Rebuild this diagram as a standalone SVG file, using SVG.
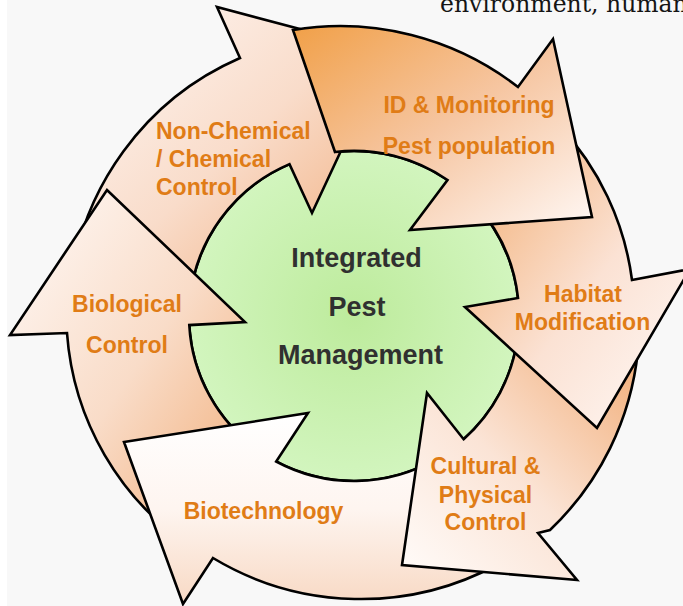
<svg xmlns="http://www.w3.org/2000/svg" width="683" height="606" viewBox="0 0 683 606">
<style>
.arrow{stroke:#000;stroke-width:2.6;stroke-linejoin:miter}
.lbl{font-family:"Liberation Sans",Arial,sans-serif;font-weight:bold;font-size:23px;fill:#E07C16}
.ctr{font-family:"Liberation Sans",Arial,sans-serif;font-weight:bold;font-size:27px;fill:#303030;text-anchor:middle}
.mid{text-anchor:middle}
</style>
<defs>
<linearGradient id="gID" x1="0" y1="0" x2="1" y2="1">
<stop offset="0" stop-color="#F1A048"/><stop offset="0.5" stop-color="#F6C6A2"/><stop offset="1" stop-color="#FFF8F5"/>
</linearGradient>
<linearGradient id="gHab" x1="0" y1="0" x2="1" y2="1">
<stop offset="0" stop-color="#F1A868"/><stop offset="0.55" stop-color="#FBE2D4"/><stop offset="1" stop-color="#FFFAF8"/>
</linearGradient>
<linearGradient id="gCul" x1="0" y1="1" x2="1" y2="0">
<stop offset="0" stop-color="#FFFCFA"/><stop offset="0.45" stop-color="#FBE4D6"/><stop offset="1" stop-color="#F1AA72"/>
</linearGradient>
<linearGradient id="gBiot" x1="0" y1="0" x2="0" y2="1">
<stop offset="0" stop-color="#FFFFFF"/><stop offset="0.5" stop-color="#FEF5F0"/><stop offset="1" stop-color="#F8D9C4"/>
</linearGradient>
<linearGradient id="gBio" x1="0" y1="0" x2="1" y2="1">
<stop offset="0" stop-color="#FFFAF8"/><stop offset="0.5" stop-color="#F9DCC8"/><stop offset="1" stop-color="#F0A66C"/>
</linearGradient>
<linearGradient id="gNon" x1="0" y1="0" x2="1" y2="1">
<stop offset="0" stop-color="#FFFAF8"/><stop offset="0.5" stop-color="#F9DCCA"/><stop offset="1" stop-color="#F0A670"/>
</linearGradient>
<radialGradient id="gGreen" cx="0.5" cy="0.5" r="0.5">
<stop offset="0" stop-color="#BDEB9C"/><stop offset="1" stop-color="#D2F5BE"/>
</radialGradient>
</defs>
<rect x="0" y="0" width="683" height="606" fill="#FFFFFF"/>
<rect x="7" y="0" width="676" height="606" fill="#F8F8F8"/>
<text x="440" y="12" font-family="'DejaVu Serif','Liberation Serif',serif" font-size="23.5" fill="#151515">environment, human</text>

<g id="center-circle">
<circle cx="354" cy="316" r="165" fill="url(#gGreen)" stroke="#000" stroke-width="2.6"/>
</g>

<g id="node-nonchemical">
<path class="arrow" fill="url(#gNon)" d="M70,291.2 A285,285 0 0 1 240,58 L217,7 L387,52 L312,213 L289.5,164.1 A165,165 0 0 0 189.6,301.6 Z"/>
<text class="lbl" x="156" y="138.5">Non-Chemical</text>
<text class="lbl" x="156" y="166.5">/ Chemical</text>
<text class="lbl" x="156" y="194.5">Control</text>
</g>

<g id="node-biological">
<path class="arrow" fill="url(#gBio)" d="M191.7,547.8 A283,283 0 0 1 67,333 L10,335 L107,190 L245,322 L189.3,325.1 A165,165 0 0 0 259.4,451.2 Z"/>
<text class="lbl mid" x="127" y="312">Biological</text>
<text class="lbl mid" x="127" y="353">Control</text>
</g>

<g id="node-biotechnology">
<path class="arrow" fill="url(#gBiot)" d="M497.5,564.5 A287,287 0 0 1 213,558 L183,604 L124,442 L308,413 L276.2,461.5 A165,165 0 0 0 436.5,458.9 Z"/>
<text class="lbl mid" x="263.5" y="519">Biotechnology</text>
</g>

<g id="node-cultural">
<path class="arrow" fill="url(#gCul)" d="M637.9,350.9 A287,287 0 0 1 550,530 L538,533 L577,580 L402,565 L427,393 L463.6,439.2 A165,165 0 0 0 517.8,336.1 Z"/>
<text class="lbl mid" x="485.5" y="474">Cultural &amp;</text>
<text class="lbl mid" x="485.5" y="502.5">Physical</text>
<text class="lbl mid" x="485.5" y="529.5">Control</text>
</g>

<g id="node-habitat">
<path class="arrow" fill="url(#gHab)" d="M558.8,125 A280,280 0 0 1 632,280 L690,269 L597,428 L465,307 L518,298 A165,165 0 0 0 474.7,203.5 Z"/>
<text class="lbl mid" x="583" y="302">Habitat</text>
<text class="lbl mid" x="582.5" y="329.5">Modification</text>
</g>

<g id="node-id-monitoring">
<path class="arrow" fill="url(#gID)" d="M293,30 A290,290 0 0 1 518,87 L553,39 L592,217 L410,230 L447.5,180 A165,165 0 0 0 335,152 Z"/>
<text class="lbl mid" x="469" y="112.5">ID &amp; Monitoring</text>
<text class="lbl mid" x="469" y="154">Pest population</text>
</g>

<g id="node-ipm">
<text class="ctr" x="356.5" y="267">Integrated</text>
<text class="ctr" x="357" y="316">Pest</text>
<text class="ctr" x="360.5" y="364">Management</text>
</g>
</svg>
